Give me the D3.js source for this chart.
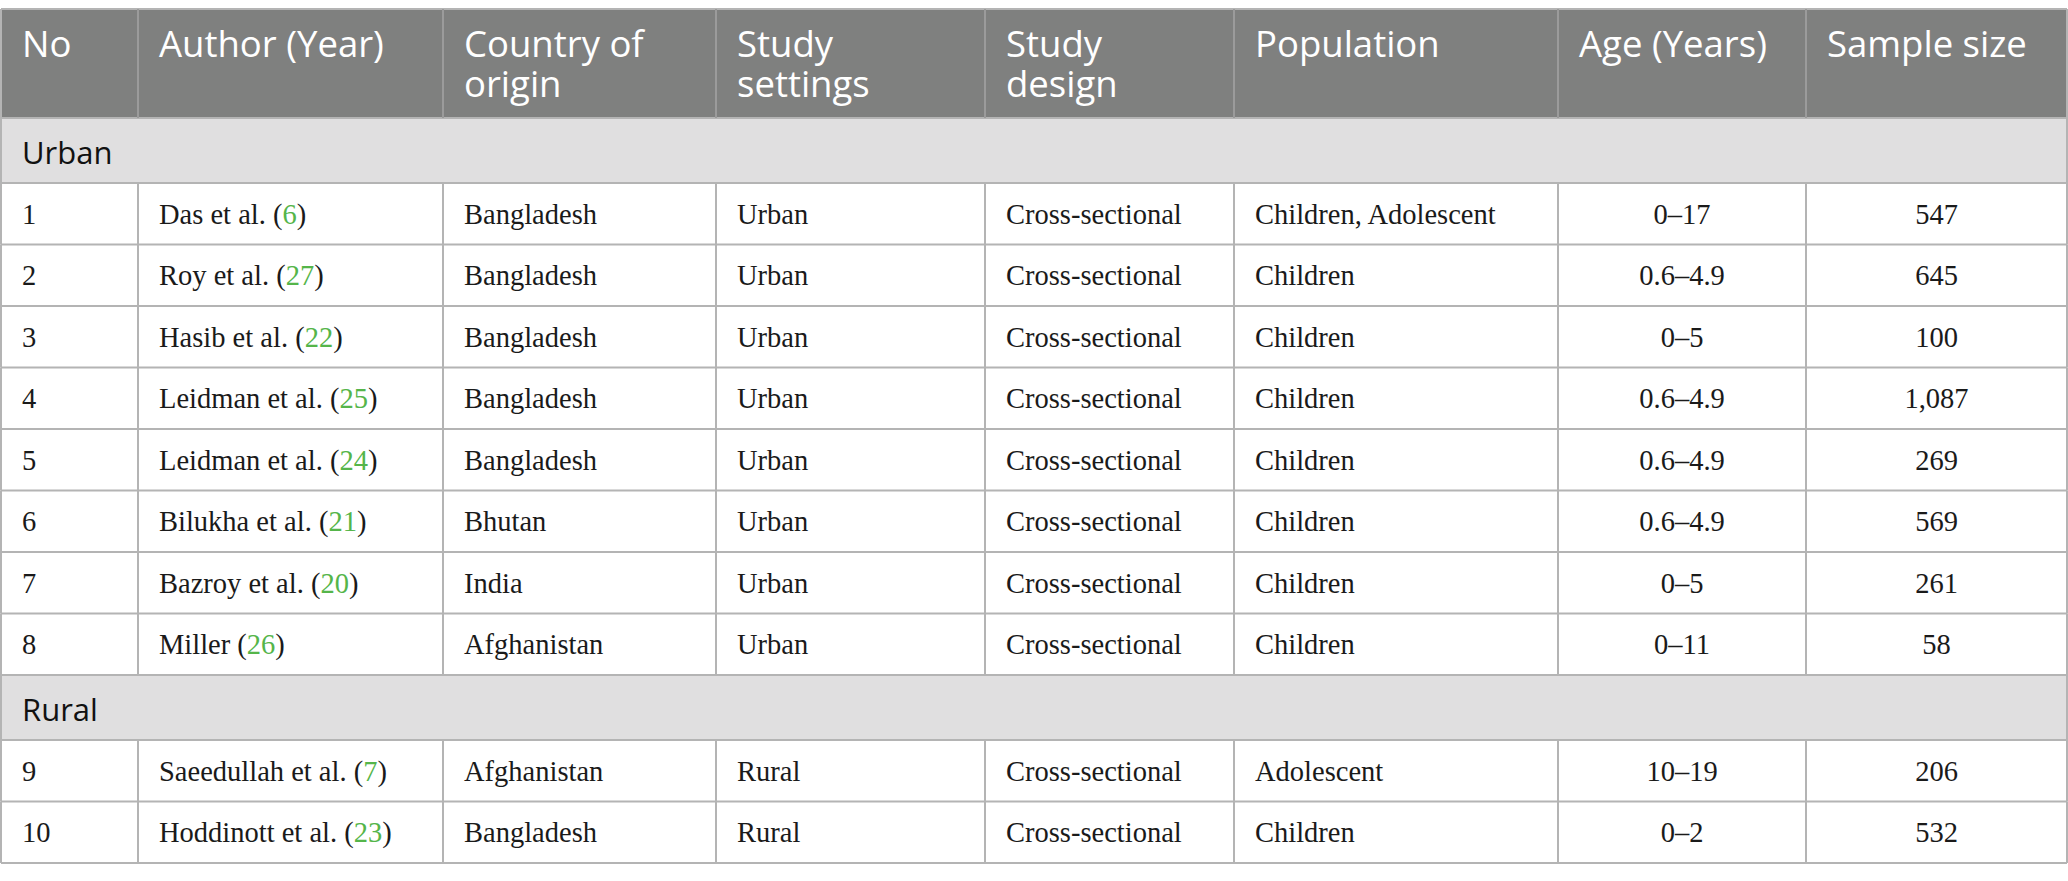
<!DOCTYPE html>
<html>
<head>
<meta charset="utf-8">
<script src="https://cdn.jsdelivr.net/npm/d3@7"></script>
<style>
  body { margin: 0; background: #fff; }
</style>
</head>
<body>
<div id="table"></div>
<script>
// table content
var headers = [["No"], ["Author (Year)"], ["Country of", "origin"], ["Study", "settings"],
               ["Study", "design"], ["Population"], ["Age (Years)"], ["Sample size"]];
var groupNames = ["Urban", "Rural"];
var groupOf = [0, 0, 0, 0, 0, 0, 0, 0, 1, 1];
var nos = ["1", "2", "3", "4", "5", "6", "7", "8", "9", "10"];
var authors = ["Das et al.", "Roy et al.", "Hasib et al.", "Leidman et al.", "Leidman et al.",
               "Bilukha et al.", "Bazroy et al.", "Miller", "Saeedullah et al.", "Hoddinott et al."];
var refs = ["6", "27", "22", "25", "24", "21", "20", "26", "7", "23"];
var countries = ["Bangladesh", "Bangladesh", "Bangladesh", "Bangladesh", "Bangladesh",
                 "Bhutan", "India", "Afghanistan", "Afghanistan", "Bangladesh"];
var settings = ["Urban", "Urban", "Urban", "Urban", "Urban", "Urban", "Urban", "Urban", "Rural", "Rural"];
var designs = ["Cross-sectional", "Cross-sectional", "Cross-sectional", "Cross-sectional", "Cross-sectional",
               "Cross-sectional", "Cross-sectional", "Cross-sectional", "Cross-sectional", "Cross-sectional"];
var populations = ["Children, Adolescent", "Children", "Children", "Children", "Children",
                   "Children", "Children", "Children", "Adolescent", "Children"];
var ages = ["0\u201317", "0.6\u20134.9", "0\u20135", "0.6\u20134.9", "0.6\u20134.9",
            "0.6\u20134.9", "0\u20135", "0\u201311", "10\u201319", "0\u20132"];
var sizes = ["547", "645", "100", "1,087", "269", "569", "261", "58", "206", "532"];

// layout
var width = 2068, height = 881;
var colEdges = [1, 138, 443, 716, 985, 1234, 1558, 1806, 2067];
var tableTop = 9, headH = 109, groupH = 65, rowH = 61.5;
var pad = 21;
var centered = [false, false, false, false, false, false, true, true];

var headBg = "#7f807f", groupBg = "#e0dfe0", lineCol = "#b4b4b4", refCol = "#55b54a";
var sansFont = "'Open Sans', sans-serif", serifFont = "'Liberation Serif', 'Times New Roman', serif";

// build row list
var rows = [];
var y = tableTop;
rows.push({ type: "head", y: y, h: headH }); y += headH;
var lastGroup = -1;
nos.forEach(function (n, i) {
    if (groupOf[i] !== lastGroup) {
        lastGroup = groupOf[i];
        rows.push({ type: "group", y: y, h: groupH, label: groupNames[lastGroup] });
        y += groupH;
    }
    rows.push({ type: "data", y: y, h: rowH, i: i });
    y += rowH;
});
var bottom = y;

var svg = d3.select("#table").append("svg")
    .attr("width", width)
    .attr("height", height);

var x0 = colEdges[0], x1 = colEdges[colEdges.length - 1];

// backgrounds
svg.selectAll("rect.bg")
    .data(rows.filter(function (r) { return r.type !== "data"; }))
    .enter().append("rect")
    .attr("class", "bg")
    .attr("x", x0).attr("y", function (r) { return r.y; })
    .attr("width", x1 - x0).attr("height", function (r) { return r.h; })
    .attr("fill", function (r) { return r.type === "head" ? headBg : groupBg; });

// horizontal lines
var hLines = rows.map(function (r) { return r.y; }).concat([bottom]);
svg.selectAll("line.h")
    .data(hLines)
    .enter().append("line")
    .attr("x1", x0).attr("x2", x1)
    .attr("y1", function (d) { return d; }).attr("y2", function (d) { return d; })
    .attr("stroke", lineCol).attr("stroke-width", 2);

// vertical lines (skip through group rows)
rows.forEach(function (r) {
    var edges = r.type === "group" ? [x0, x1] : colEdges;
    svg.append("g").selectAll("line")
        .data(edges)
        .enter().append("line")
        .attr("x1", function (d) { return d; }).attr("x2", function (d) { return d; })
        .attr("y1", r.y).attr("y2", r.y + r.h)
        .attr("stroke", function (d, k) {
            return r.type === "head" && k > 0 && k < edges.length - 1 ? "#9b9b9b" : lineCol;
        })
        .attr("stroke-width", 2);
});

// header text
var headRow = rows[0];
var ht = svg.append("g").selectAll("text")
    .data(headers)
    .enter().append("text")
    .attr("x", function (d, k) { return colEdges[k] + pad; })
    .attr("y", headRow.y + 48)
    .attr("font-family", sansFont)
    .attr("font-size", 36.5)
    .attr("fill", "#ffffff");
ht.selectAll("tspan")
    .data(function (d) { return d; })
    .enter().append("tspan")
    .attr("x", function () { return d3.select(this.parentNode).attr("x"); })
    .attr("dy", function (d, j) { return j === 0 ? 0 : 40; })
    .text(function (d) { return d; });

// group labels
svg.append("g").selectAll("text")
    .data(rows.filter(function (r) { return r.type === "group"; }))
    .enter().append("text")
    .attr("x", x0 + pad)
    .attr("y", function (r) { return r.y + 46; })
    .attr("font-family", sansFont)
    .attr("font-size", 31)
    .attr("fill", "#111")
    .text(function (r) { return r.label; });

// data cells
var dataRows = rows.filter(function (r) { return r.type === "data"; });
var cols = [nos, null, countries, settings, designs, populations, ages, sizes];
dataRows.forEach(function (r) {
    var i = r.i;
    var by = r.y + r.h / 2 + 10;
    cols.forEach(function (arr, k) {
        var t = svg.append("text")
            .attr("y", by)
            .attr("font-family", serifFont)
            .attr("font-size", 28.5)
            .attr("fill", "#1a1a1a");
        if (centered[k]) {
            t.attr("x", (colEdges[k] + colEdges[k + 1]) / 2).attr("text-anchor", "middle");
        } else {
            t.attr("x", colEdges[k] + pad);
        }
        if (arr) {
            t.text(arr[i]);
        } else {
            t.append("tspan").text(authors[i] + " (");
            t.append("tspan").attr("fill", refCol).text(refs[i]);
            t.append("tspan").text(")");
        }
    });
});
</script>
</body>
</html>
